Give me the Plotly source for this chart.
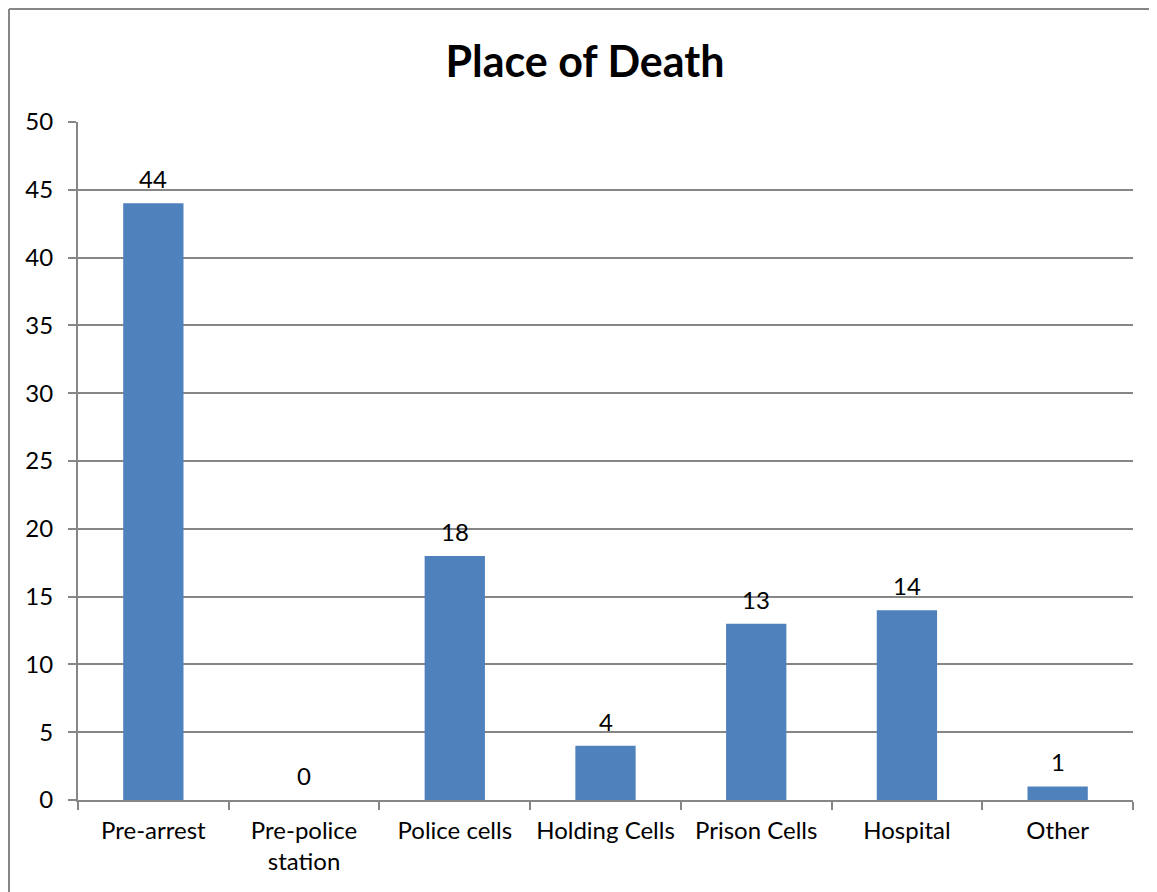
import plotly.graph_objects as go

# --- Data ---
places = ["Pre-arrest", "Pre-police<br>station", "Police cells", "Holding Cells",
          "Prison Cells", "Hospital", "Other"]
deaths = [44, 0, 18, 4, 13, 14, 1]
y_ticks = [0, 5, 10, 15, 20, 25, 30, 35, 40, 45, 50]

font_family = "Lato, 'Open Sans', sans-serif"
axis_grey = "#868686"

fig = go.Figure(go.Bar(
    x=places, y=deaths,
    marker=dict(color="#4F81BD", line=dict(width=0)),
    width=0.4,
    cliponaxis=False,
))

# value labels above bars (Excel-style padding)
for p, v in zip(places, deaths):
    fig.add_annotation(x=p, y=v, text=str(v), showarrow=False,
                       yanchor="bottom", yshift=8,
                       font=dict(size=24, color="black", family=font_family))

# chart frame: only the left and top edges are visible in the reference
frame = [
    dict(type="line", xref="paper", yref="paper", x0=-0.0654, x1=-0.0654,
         y0=-0.3, y1=1.1667, line=dict(color=axis_grey, width=2), layer="below"),
    dict(type="line", xref="paper", yref="paper", x0=-0.0654, x1=1.2,
         y0=1.1667, y1=1.1667, line=dict(color=axis_grey, width=2), layer="below"),
]

# page body has an 8px margin, so margins are shifted to compensate
fig.update_layout(
    width=1157, height=892,
    plot_bgcolor="white", paper_bgcolor="white",
    margin=dict(l=70, r=32, t=114, b=100),
    font=dict(family=font_family, size=24, color="black"),
    title=dict(text="<b>Place of Death</b>", x=0.4987, xref="container",
               y=0.9395, yref="container", yanchor="middle",
               font=dict(size=43, family=font_family, color="black")),
    showlegend=False,
    shapes=frame,
)
fig.update_xaxes(
    showline=True, linecolor=axis_grey, linewidth=2,
    ticks="outside", tickson="boundaries", ticklen=8, tickcolor=axis_grey, tickwidth=2,
    tickfont=dict(size=24), ticklabelstandoff=8,
)
fig.update_yaxes(
    range=[0, 50], tickvals=y_ticks,
    showgrid=True, gridcolor=axis_grey, gridwidth=1.5,
    showline=True, linecolor=axis_grey, linewidth=2,
    ticks="outside", ticklen=8, tickcolor=axis_grey, tickwidth=2,
    tickfont=dict(size=24), ticklabelstandoff=10, zeroline=False,
)

fig.write_html("out.html")
